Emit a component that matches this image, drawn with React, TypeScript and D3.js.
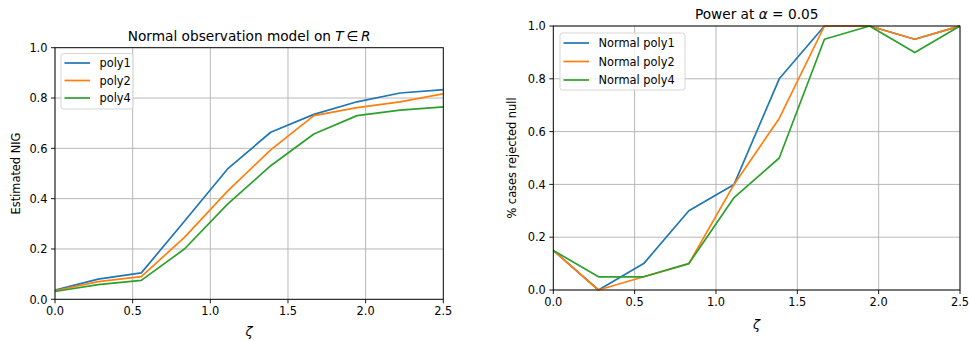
import React from "react";
import * as d3 from "d3";

// Shared x grid: ten values of ζ from 0 to 2.5
const zeta = [0, 0.2778, 0.5556, 0.8333, 1.1111, 1.3889, 1.6667, 1.9444, 2.2222, 2.5];

// Left panel: estimated NIG
const nigPoly1 = [0.036, 0.08, 0.105, 0.31, 0.518, 0.664, 0.735, 0.785, 0.82, 0.833];
const nigPoly2 = [0.034, 0.07, 0.09, 0.246, 0.43, 0.594, 0.73, 0.762, 0.785, 0.817];
const nigPoly4 = [0.031, 0.058, 0.075, 0.2, 0.378, 0.531, 0.657, 0.73, 0.752, 0.765];

// Right panel: share of cases rejecting the null
const powPoly1 = [0.15, 0.0, 0.1, 0.3, 0.4, 0.8, 1.0, 1.0, 0.95, 1.0];
const powPoly2 = [0.15, 0.0, 0.05, 0.1, 0.4, 0.65, 1.0, 1.0, 0.95, 1.0];
const powPoly4 = [0.15, 0.05, 0.05, 0.1, 0.35, 0.5, 0.95, 1.0, 0.9, 1.0];

const xTicks = [0, 0.5, 1.0, 1.5, 2.0, 2.5];
const yTicks = [0, 0.2, 0.4, 0.6, 0.8, 1.0];

const leftNames = ["poly1", "poly2", "poly4"];
const rightNames = ["Normal poly1", "Normal poly2", "Normal poly4"];
const colors = ["#1f77b4", "#ff7f0e", "#2ca02c"];

const FONT = "DejaVu Sans, sans-serif";
const TICK = 11.4;

type Box = { left: number; right: number; top: number; bottom: number };
type LegendBox = { x: number; y: number; w: number; h: number; rowY: number[] };

function Panel(props: {
  box: Box;
  series: number[][];
  names: string[];
  title: React.ReactNode;
  titleY: number;
  yLabel: string;
  yLabelX: number;
  xLabelY: number;
  legend: LegendBox;
}) {
  const { box, series, names, title, titleY, yLabel, yLabelX, xLabelY, legend } = props;
  const x = d3.scaleLinear().domain([0, 2.5]).range([box.left, box.right]);
  const y = d3.scaleLinear().domain([0, 1]).range([box.bottom, box.top]);
  const line = d3
    .line<[number, number]>()
    .x((d) => x(d[0]))
    .y((d) => y(d[1]));
  const cx = (box.left + box.right) / 2;
  const cy = (box.top + box.bottom) / 2;
  const clipId = `clip-${Math.round(box.left)}`;
  return (
    <g>
      <defs>
        <clipPath id={clipId}>
          <rect x={box.left} y={box.top - 2} width={box.right - box.left} height={box.bottom - box.top + 4} />
        </clipPath>
      </defs>
      {/* grid */}
      {xTicks.map((t) => (
        <line key={"gx" + t} x1={x(t)} x2={x(t)} y1={box.top} y2={box.bottom} stroke="#b0b0b0" strokeWidth={0.9} />
      ))}
      {yTicks.map((t) => (
        <line key={"gy" + t} x1={box.left} x2={box.right} y1={y(t)} y2={y(t)} stroke="#b0b0b0" strokeWidth={0.9} />
      ))}
      {/* series */}
      <g clipPath={`url(#${clipId})`}>
        {series.map((s, i) => (
          <path
            key={i}
            d={line(zeta.map((z, k) => [z, s[k]] as [number, number])) || ""}
            fill="none"
            stroke={colors[i]}
            strokeWidth={1.7}
            strokeLinejoin="round"
            strokeLinecap="square"
          />
        ))}
      </g>
      {/* frame */}
      <rect x={box.left} y={box.top} width={box.right - box.left} height={box.bottom - box.top} fill="none" stroke="#000" strokeWidth={0.9} />
      {/* x ticks */}
      {xTicks.map((t) => (
        <g key={"tx" + t}>
          <line x1={x(t)} x2={x(t)} y1={box.bottom} y2={box.bottom + 4} stroke="#000" strokeWidth={0.9} />
          <text x={x(t)} y={box.bottom + 16} textAnchor="middle" fontFamily={FONT} fontSize={TICK} fill="#000">
            {d3.format(".1f")(t)}
          </text>
        </g>
      ))}
      {/* y ticks */}
      {yTicks.map((t) => (
        <g key={"ty" + t}>
          <line x1={box.left - 4} x2={box.left} y1={y(t)} y2={y(t)} stroke="#000" strokeWidth={0.9} />
          <text x={box.left - 7.5} y={y(t) + 4.2} textAnchor="end" fontFamily={FONT} fontSize={TICK} fill="#000">
            {d3.format(".1f")(t)}
          </text>
        </g>
      ))}
      {/* titles and labels */}
      <text x={cx} y={titleY} textAnchor="middle" fontFamily={FONT} fontSize={13.7} fill="#000">
        {title}
      </text>
      <text
        transform={`translate(${yLabelX},${cy}) rotate(-90)`}
        textAnchor="middle"
        fontFamily={FONT}
        fontSize={TICK}
        fill="#000"
      >
        {yLabel}
      </text>
      <text x={cx} y={xLabelY} textAnchor="middle" fontFamily={FONT} fontStyle="italic" fontSize={13} fill="#000">
        ζ
      </text>
      {/* legend */}
      <rect
        x={legend.x}
        y={legend.y}
        width={legend.w}
        height={legend.h}
        rx={2.5}
        fill="#fff"
        fillOpacity={0.8}
        stroke="#d0d0d0"
        strokeWidth={0.9}
      />
      {names.map((n, i) => (
        <g key={n}>
          <line
            x1={legend.x + 3.5}
            x2={legend.x + 29}
            y1={legend.rowY[i]}
            y2={legend.rowY[i]}
            stroke={colors[i]}
            strokeWidth={1.7}
          />
          <text x={legend.x + 38.5} y={legend.rowY[i] + 4.2} fontFamily={FONT} fontSize={TICK} fill="#000">
            {n}
          </text>
        </g>
      ))}
    </g>
  );
}

export default function App() {
  return (
    <svg width={969} height={341} style={{ display: "block", position: "absolute", left: 0, top: 0 }}>
      <rect width={969} height={341} fill="#fff" />
      <Panel
        box={{ left: 55, right: 443.3, top: 47.7, bottom: 299.3 }}
        series={[nigPoly1, nigPoly2, nigPoly4]}
        names={leftNames}
        title={
          <>
            Normal observation model on <tspan fontStyle="italic">T</tspan>{"\u2009∈\u2009"}
            <tspan fontStyle="italic">R</tspan>
          </>
        }
        titleY={40.5}
        yLabel="Estimated NIG"
        yLabelX={20}
        xLabelY={336}
        legend={{ x: 61, y: 53.5, w: 72, h: 55.5, rowY: [63, 80.5, 98] }}
      />
      <Panel
        box={{ left: 553.3, right: 960, top: 26, bottom: 290 }}
        series={[powPoly1, powPoly2, powPoly4]}
        names={rightNames}
        title={
          <>
            Power at <tspan fontStyle="italic">α</tspan> = 0.05
          </>
        }
        titleY={19}
        yLabel="% cases rejected null"
        yLabelX={516}
        xLabelY={329}
        legend={{ x: 560, y: 33, w: 125, h: 57, rowY: [43, 61.5, 80] }}
      />
    </svg>
  );
}
